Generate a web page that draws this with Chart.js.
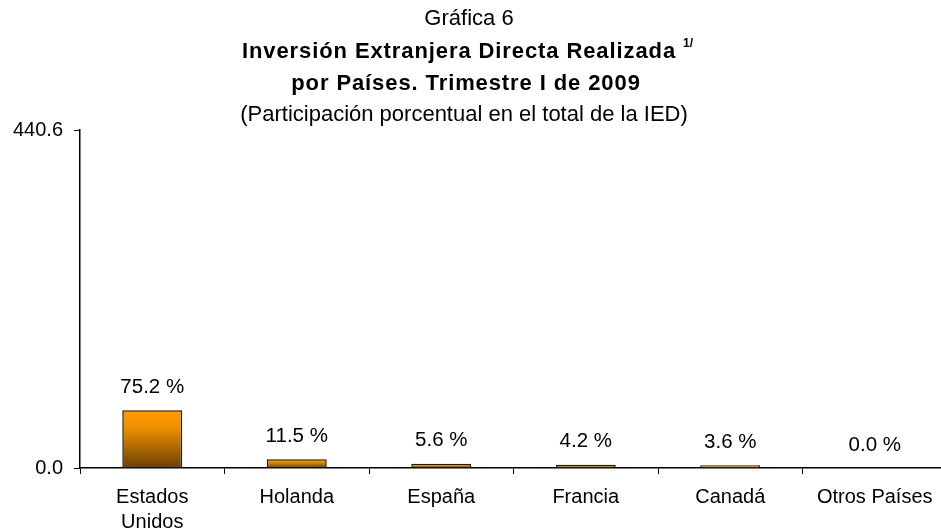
<!DOCTYPE html>
<html>
<head>
<meta charset="utf-8">
<script src="https://cdn.jsdelivr.net/npm/chart.js@4/dist/chart.umd.min.js"></script>
<style>
html,body{margin:0;padding:0;background:#fff;overflow:hidden;}
#wrap{width:950px;height:529px;position:relative;}
</style>
</head>
<body>
<div id="wrap"><canvas id="c"></canvas></div>
<script>
const categories = [["Estados","Unidos"], "Holanda", "España", "Francia", "Canadá", "Otros Países"];
const values = [75.2, 11.5, 5.6, 4.2, 3.6, 0.0];
const yTicks = [0, 440.6];
const titleLines = ["Gráfica 6", "Inversión Extranjera Directa Realizada", "por Países. Trimestre I de 2009", "(Participación porcentual en el total de la IED)"];
const footnoteMark = "1/";

const FONT = "'Liberation Sans', Arial, sans-serif";

const titlePlugin = {
  id: 'titles',
  afterDraw(chart) {
    const ctx = chart.ctx;
    ctx.save();
    ctx.fillStyle = '#000';
    ctx.textAlign = 'center';
    ctx.textBaseline = 'middle';
    ctx.font = "22px " + FONT;
    ctx.fillText(titleLines[0], 469, 19);
    ctx.font = "bold 22px " + FONT;
    ctx.letterSpacing = "0.9px";
    const w1 = ctx.measureText(titleLines[1]).width;
    ctx.fillText(titleLines[1], 459, 52);
    ctx.letterSpacing = "0px";
    ctx.font = "bold 12px " + FONT;
    ctx.textAlign = 'left';
    ctx.fillText(footnoteMark, 459 + w1/2 + 7, 44);
    ctx.textAlign = 'center';
    ctx.font = "bold 22px " + FONT;
    ctx.letterSpacing = "0.9px";
    ctx.fillText(titleLines[2], 466, 84);
    ctx.letterSpacing = "0px";
    ctx.font = "22px " + FONT;
    ctx.fillText(titleLines[3], 464, 115);
    ctx.restore();
  }
};

const valueLabels = {
  id: 'valueLabels',
  afterDatasetsDraw(chart) {
    const ctx = chart.ctx;
    const meta = chart.getDatasetMeta(0);
    ctx.save();
    ctx.fillStyle = '#000';
    ctx.font = "20.5px " + FONT;
    ctx.textAlign = 'center';
    ctx.textBaseline = 'middle';
    meta.data.forEach((bar, i) => {
      ctx.fillText(values[i].toFixed(1) + ' %', bar.x, bar.y - 23);
    });
    ctx.restore();
  }
};

function barGradient(context) {
  const chart = context.chart;
  if (!chart.chartArea || !chart.scales.y) return '#e08a00';
  const v = context.raw;
  const ys = chart.scales.y;
  const top = ys.getPixelForValue(v);
  const bottom = ys.getPixelForValue(0);
  if (bottom - top < 1) return '#c07800';
  const g = chart.ctx.createLinearGradient(0, top, 0, bottom);
  g.addColorStop(0, '#ff9a00');
  g.addColorStop(0.3, '#f09000');
  g.addColorStop(1, '#6a4000');
  return g;
}

new Chart(document.getElementById('c'), {
  type: 'bar',
  data: {
    labels: categories,
    datasets: [{
      data: values,
      backgroundColor: barGradient,
      borderColor: '#1a1a1a',
      borderWidth: 1.5,
      borderSkipped: 'bottom',
      barPercentage: 0.415,
      categoryPercentage: 1.0
    }]
  },
  options: {
    responsive: true,
    maintainAspectRatio: false,
    animation: false,
    layout: { padding: { top: 130, right: 3, left: 0, bottom: 0 } },
    plugins: { legend: { display: false }, tooltip: { enabled: false } },
    scales: {
      x: {
        offset: true,
        grid: { offset: true, drawOnChartArea: false, drawTicks: true, tickLength: 6, color: '#000' },
        border: { color: '#000', width: 1.5 },
        ticks: { color: '#000', font: { family: FONT, size: 20, lineHeight: 1.25 }, padding: 11, maxRotation: 0, autoSkip: false },
        afterFit(scale) { scale.height = 61; }
      },
      y: {
        min: 0,
        max: 440.6,
        afterBuildTicks(scale) { scale.ticks = yTicks.map(v => ({ value: v })); },
        grid: { drawOnChartArea: false, drawTicks: true, tickLength: 6, color: '#000' },
        border: { color: '#000', width: 1.5 },
        ticks: { color: '#000', font: { family: FONT, size: 20 }, padding: 11,
          callback: (v) => Number(v).toFixed(1) },
        afterFit(scale) { scale.width = 80; }
      }
    }
  },
  plugins: [titlePlugin, valueLabels]
});
</script>
</body>
</html>
